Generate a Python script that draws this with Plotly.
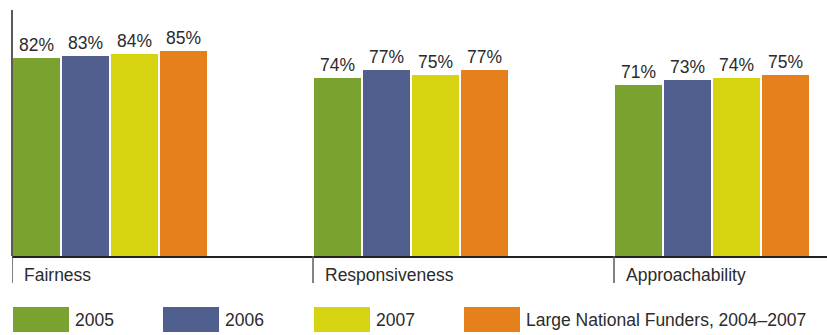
import plotly.graph_objects as go

# Survey dimensions and the share of grantees rating each one highly
categories = ["Fairness", "Responsiveness", "Approachability"]
series_names = ["2005", "2006", "2007", "Large National Funders, 2004\u20132007"]
values_2005 = [82, 74, 71]
values_2006 = [83, 77, 73]
values_2007 = [84, 75, 74]
values_lnf = [85, 77, 75]
series_values = [values_2005, values_2006, values_2007, values_lnf]
colors = ["#7aa22f", "#515f8f", "#d6d311", "#e5801c"]

W, H = 827, 335
FONT = "Liberation Sans, Arial, Helvetica, sans-serif"
TEXT = "#2b2b2b"

# Layout in pixels
axis_x = 12          # left axis / first category boundary
base_y = 256         # baseline
top_y = 15           # where 100% sits
slot = 301           # width of one category slot
bar_w = 47
bar_gap = 2
lead = 1             # space between slot boundary and first bar


def px_x(p):
    return p / W


def px_y(p):
    return 1 - p / H


x_range_max = (W - axis_x) / slot

fig = go.Figure()
for j, (name, vals, col) in enumerate(zip(series_names, series_values, colors)):
    offset = (lead + bar_w / 2 + j * (bar_w + bar_gap)) / slot
    fig.add_trace(go.Bar(
        x=[i + offset for i in range(len(categories))],
        y=vals,
        width=bar_w / slot,
        name=name,
        marker=dict(color=col, line=dict(width=0)),
        text=[f"{v}%" for v in vals],
        textposition="outside",
        textfont=dict(family=FONT, size=17.5, color=TEXT),
        cliponaxis=False,
        showlegend=False,
    ))

shapes = []
annotations = []

# vertical axis line (runs slightly above the plot area)
shapes.append(dict(type="line", xref="paper", yref="paper",
                   x0=px_x(axis_x), x1=px_x(axis_x), y0=px_y(10), y1=px_y(base_y),
                   line=dict(color="#5a5a5a", width=2)))

# category boundary ticks and labels
for i, cat in enumerate(categories):
    shapes.append(dict(type="line", xref="x", yref="paper",
                       x0=i, x1=i, y0=px_y(base_y), y1=px_y(283),
                       line=dict(color="#5a5a5a", width=1.5)))
    annotations.append(dict(xref="x", yref="paper", x=i + 10 / slot, y=px_y(275),
                            text=cat, showarrow=False, xanchor="left", yanchor="middle",
                            font=dict(family=FONT, size=17.5, color=TEXT)))

# legend drawn as large swatches along the bottom
legend_left = [13, 163, 314, 464]
for name, col, lx in zip(series_names, colors, legend_left):
    shapes.append(dict(type="rect", xref="paper", yref="paper",
                       x0=px_x(lx), x1=px_x(lx + 56), y0=px_y(332), y1=px_y(307),
                       fillcolor=col, line=dict(width=0)))
    annotations.append(dict(xref="paper", yref="paper", x=px_x(lx + 60), y=px_y(320),
                            text=name, showarrow=False, xanchor="left", yanchor="middle",
                            font=dict(family=FONT, size=17.5, color=TEXT)))

fig.update_layout(
    width=W, height=H,
    margin=dict(l=0, r=0, t=0, b=0),
    paper_bgcolor="white", plot_bgcolor="white",
    bargap=0,
    xaxis=dict(domain=[px_x(axis_x), 1], range=[0, x_range_max],
               showgrid=False, zeroline=False, showticklabels=False, ticks="",
               showline=True, linecolor="#222222", linewidth=1.5),
    yaxis=dict(domain=[px_y(base_y), px_y(top_y)], range=[0, 100],
               showgrid=False, zeroline=False, showticklabels=False, ticks="",
               showline=False),
    shapes=shapes,
    annotations=annotations,
    showlegend=False,
)

fig.write_html("out.html")
